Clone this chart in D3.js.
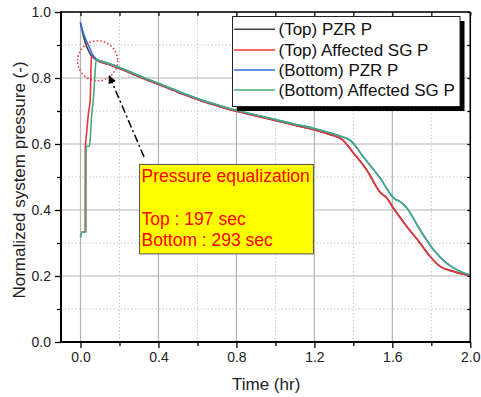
<!DOCTYPE html>
<html>
<head>
<meta charset="utf-8">
<script src="https://cdn.jsdelivr.net/npm/d3@7"></script>
<style>
  html, body { margin: 0; padding: 0; background: #fff; }
  svg { display: block; font-family: "Liberation Sans", Arial, sans-serif; }
</style>
</head>
<body>
<svg id="chart" width="481" height="397"></svg>
<script>
// time in hours, pressure normalized
var topTailT = [0.1, 0.15, 0.2, 0.3, 0.4, 0.5, 0.6, 0.7, 0.8, 0.9, 1.0, 1.1, 1.2, 1.3, 1.34, 1.4, 1.468, 1.54, 1.556, 1.566, 1.605, 1.674, 1.742, 1.794, 1.845, 1.913, 1.96, 2.0];
var topTailP = [0.849, 0.84, 0.829, 0.804, 0.781, 0.757, 0.735, 0.716, 0.699, 0.685, 0.671, 0.657, 0.643, 0.625, 0.615, 0.573, 0.522, 0.452, 0.444, 0.440, 0.406, 0.35, 0.30, 0.259, 0.229, 0.214, 0.206, 0.201];
var botTailT = [0.1, 0.15, 0.2, 0.3, 0.4, 0.5, 0.6, 0.7, 0.8, 0.9, 1.0, 1.1, 1.2, 1.3, 1.34, 1.37, 1.391, 1.45, 1.537, 1.613, 1.638, 1.674, 1.742, 1.81, 1.878, 1.948, 2.0];
var botTailP = [0.852, 0.843, 0.832, 0.807, 0.784, 0.760, 0.738, 0.719, 0.702, 0.688, 0.674, 0.660, 0.647, 0.630, 0.622, 0.616, 0.607, 0.562, 0.497, 0.433, 0.426, 0.406, 0.34, 0.28, 0.239, 0.214, 0.203];

var topPzrT = [0, 0.01, 0.025, 0.04, 0.055, 0.08];
var topPzrP = [0.968, 0.94, 0.906, 0.884, 0.868, 0.856];
var topSgT = [0, 0.008, 0.024, 0.0245, 0.032, 0.041, 0.05, 0.053, 0.0555, 0.08];
var topSgP = [0.318, 0.333, 0.333, 0.583, 0.638, 0.694, 0.734, 0.80, 0.866, 0.856];
var botPzrT = [0, 0.01, 0.024, 0.04, 0.06, 0.081];
var botPzrP = [0.968, 0.945, 0.921, 0.9, 0.873, 0.857];
var botSgT = [0, 0.008, 0.028, 0.0285, 0.032, 0.045, 0.049, 0.057, 0.066, 0.073, 0.081];
var botSgP = [0.318, 0.333, 0.333, 0.583, 0.593, 0.593, 0.608, 0.684, 0.734, 0.80, 0.857];

var seriesNames = ["(Top) PZR P", "(Top) Affected SG P", "(Bottom) PZR P", "(Bottom) Affected SG P"];
var seriesColors = ["#404040", "#e8363b", "#2f6fdc", "#45ac7b"];

var xMajor = [0.0, 0.4, 0.8, 1.2, 1.6, 2.0];
var xMinor = [0.2, 0.6, 1.0, 1.4, 1.8];
var yMajor = [0.0, 0.2, 0.4, 0.6, 0.8, 1.0];
var yMinor = [0.1, 0.3, 0.5, 0.7, 0.9];

var noteLines = ["Pressure equalization", "", "Top : 197 sec", "Bottom : 293 sec"];

function zip(t, p) { return t.map(function(d, i) { return [d, p[i]]; }); }
var series = [
  zip(topPzrT.concat(topTailT), topPzrP.concat(topTailP)),
  zip(topSgT.concat(topTailT), topSgP.concat(topTailP)),
  zip(botPzrT.concat(botTailT), botPzrP.concat(botTailP)),
  zip(botSgT.concat(botTailT), botSgP.concat(botTailP))
];

var svg = d3.select("#chart");
var L = 61, R = 470.3, T = 12, B = 342;
var x = d3.scaleLinear().domain([-0.1, 2.0]).range([L, R]);
var y = d3.scaleLinear().domain([0, 1]).range([B, T]);

// grid
var grid = svg.append("g");
grid.selectAll(".gxm").data(xMinor).enter().append("line")
  .attr("x1", function(d) { return x(d); }).attr("x2", function(d) { return x(d); })
  .attr("y1", T).attr("y2", B)
  .attr("stroke", "#c8c8c8").attr("stroke-width", 1).attr("stroke-dasharray", "1.5,2");
grid.selectAll(".gym").data(yMinor).enter().append("line")
  .attr("y1", function(d) { return y(d); }).attr("y2", function(d) { return y(d); })
  .attr("x1", L).attr("x2", R)
  .attr("stroke", "#c8c8c8").attr("stroke-width", 1).attr("stroke-dasharray", "1.5,2");
grid.selectAll(".gx").data(xMajor).enter().append("line")
  .attr("x1", function(d) { return x(d); }).attr("x2", function(d) { return x(d); })
  .attr("y1", T).attr("y2", B)
  .attr("stroke", "#b4b4b4").attr("stroke-width", 1.2);
grid.selectAll(".gy").data(yMajor).enter().append("line")
  .attr("y1", function(d) { return y(d); }).attr("y2", function(d) { return y(d); })
  .attr("x1", L).attr("x2", R)
  .attr("stroke", "#b4b4b4").attr("stroke-width", 1.2);

// lines
var line = d3.line()
  .x(function(d) { return x(d[0]); })
  .y(function(d) { return y(d[1]); })
  .curve(d3.curveMonotoneX);
svg.append("g").selectAll("path").data(series).enter().append("path")
  .attr("d", line)
  .attr("fill", "none")
  .attr("stroke", function(d, i) { return seriesColors[i]; })
  .attr("stroke-width", 1.6)
  .attr("stroke-linejoin", "round");

// frame + axes
var fmt = d3.format(".1f");
var xAxis = svg.append("g").attr("transform", "translate(0," + B + ")")
  .call(d3.axisBottom(x).tickValues(xMajor).tickSize(6).tickPadding(4).tickFormat(fmt));
var yAxis = svg.append("g").attr("transform", "translate(" + L + ",0)")
  .call(d3.axisLeft(y).tickValues(yMajor).tickSize(6).tickPadding(4).tickFormat(fmt));
[xAxis, yAxis].forEach(function(a) {
  a.select(".domain").remove();
  a.selectAll("line").attr("stroke", "#000").attr("stroke-width", 1.3);
  a.selectAll("text").attr("font-size", 14).attr("fill", "#222")
    .attr("font-family", "'Liberation Sans', Arial, sans-serif");
});
svg.append("g").attr("transform", "translate(0," + B + ")")
  .call(d3.axisBottom(x).tickValues(xMinor).tickSize(4).tickFormat(""))
  .call(function(g) { g.select(".domain").remove(); g.selectAll("line").attr("stroke-width", 1.3); });
svg.append("g").attr("transform", "translate(" + L + ",0)")
  .call(d3.axisLeft(y).tickValues(yMinor).tickSize(4).tickFormat(""))
  .call(function(g) { g.select(".domain").remove(); g.selectAll("line").attr("stroke-width", 1.3); });
// mirrored inward ticks on top / right
svg.append("g").attr("transform", "translate(0," + T + ")")
  .call(d3.axisBottom(x).tickValues(xMajor.concat(xMinor)).tickSize(4).tickFormat(""))
  .call(function(g) { g.select(".domain").remove(); g.selectAll("line").attr("stroke-width", 1.2); });
svg.append("g").attr("transform", "translate(" + R + ",0)")
  .call(d3.axisLeft(y).tickValues(yMajor.concat(yMinor)).tickSize(3).tickFormat(""))
  .call(function(g) { g.select(".domain").remove(); g.selectAll("line").attr("stroke-width", 1.2); });

svg.append("line").attr("x1", L).attr("x2", R).attr("y1", T).attr("y2", T).attr("stroke", "#000").attr("stroke-width", 1.5);
svg.append("line").attr("x1", R).attr("x2", R).attr("y1", T).attr("y2", B).attr("stroke", "#000").attr("stroke-width", 1.5);
svg.append("line").attr("x1", L).attr("x2", L).attr("y1", T - 0.75).attr("y2", B + 1).attr("stroke", "#000").attr("stroke-width", 2);
svg.append("line").attr("x1", L - 1).attr("x2", R + 0.75).attr("y1", B).attr("y2", B).attr("stroke", "#000").attr("stroke-width", 2);

svg.append("text").attr("x", (L + R) / 2 + 0.5).attr("y", 390)
  .attr("text-anchor", "middle").attr("font-size", 17).attr("fill", "#222").text("Time (hr)");
svg.append("text").attr("transform", "translate(25,180) rotate(-90)")
  .attr("text-anchor", "middle").attr("font-size", 17).attr("fill", "#222")
  .text("Normalized system pressure (-)");

// annotation: circle + dash-dot arrow + yellow box
svg.append("circle").attr("cx", x(0.088)).attr("cy", y(0.852)).attr("r", 20)
  .attr("fill", "none").attr("stroke", "#e8363b").attr("stroke-width", 1.5)
  .attr("stroke-dasharray", "1.5,2.2");

svg.append("defs").append("marker")
  .attr("id", "ah").attr("viewBox", "0 0 10 10").attr("refX", 9).attr("refY", 5)
  .attr("markerWidth", 10).attr("markerHeight", 8).attr("markerUnits", "userSpaceOnUse")
  .attr("orient", "auto")
  .append("path").attr("d", "M0,0 L10,5 L0,10 Z").attr("fill", "#000");
svg.append("line")
  .attr("x1", x(0.326)).attr("y1", y(0.561))
  .attr("x2", x(0.148)).attr("y2", y(0.806))
  .attr("stroke", "#000").attr("stroke-width", 1.5)
  .attr("stroke-dasharray", "8,3,2,3")
  .attr("marker-end", "url(#ah)");

var bx0 = x(0.303), bx1 = x(1.195), by0 = y(0.538), by1 = y(0.267);
svg.append("rect").attr("x", bx0).attr("y", by0).attr("width", bx1 - bx0).attr("height", by1 - by0)
  .attr("fill", "#ffff00").attr("stroke", "#555").attr("stroke-width", 1);
var noteY = [181.5, 203, 225, 246];
svg.append("g").selectAll("text").data(noteLines).enter().append("text")
  .attr("x", bx0 + 2).attr("y", function(d, i) { return noteY[i]; })
  .attr("font-size", 17.5).attr("fill", "#ff0000").text(function(d) { return d; });

// legend
var lg = svg.append("g");
lg.append("rect").attr("x", 237).attr("y", 21).attr("width", 227.5).attr("height", 90).attr("fill", "#000");
lg.append("rect").attr("x", 232.5).attr("y", 16.5).attr("width", 227.5).attr("height", 90)
  .attr("fill", "#fff").attr("stroke", "#222").attr("stroke-width", 1);
var rowY = [29.3, 50, 70, 90];
lg.selectAll(".ll").data(seriesNames).enter().append("line")
  .attr("x1", 234).attr("x2", 275)
  .attr("y1", function(d, i) { return rowY[i]; }).attr("y2", function(d, i) { return rowY[i]; })
  .attr("stroke", function(d, i) { return seriesColors[i]; }).attr("stroke-width", 1.6);
lg.selectAll(".lt").data(seriesNames).enter().append("text")
  .attr("x", 278.5).attr("y", function(d, i) { return rowY[i] + 6; })
  .attr("font-size", 17).attr("fill", "#111").text(function(d) { return d; });
</script>
</body>
</html>
